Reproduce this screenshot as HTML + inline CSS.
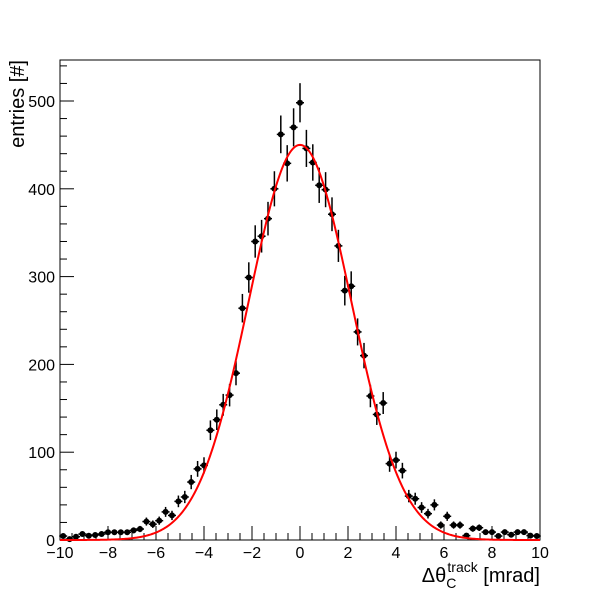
<!DOCTYPE html>
<html><head><meta charset="utf-8"><style>
body{margin:0;background:#fff}
svg{display:block;font-family:"Liberation Sans",sans-serif}
</style></head><body>
<svg id="c" width="600" height="600" viewBox="0 0 600 600">
<rect x="0" y="0" width="600" height="600" fill="#fff"/>
<rect x="60" y="60" width="480" height="480" fill="none" stroke="#000" stroke-width="1"/>
<g id="axes"></g>
<g id="marks"></g>
<text x="24" y="60" transform="rotate(-90 24 60)" text-anchor="end" font-size="20">entries [#]</text>
<text x="540" y="582" text-anchor="end" font-size="20">Δθ<tspan font-size="14" dy="6">C</tspan><tspan font-size="14" dx="-9" dy="-16">track</tspan><tspan font-size="20" dy="10"> [mrad]</tspan></text>
</svg>
<script>
const binLow = -10, binHigh = 10;
const counts = [4.5,1,3.7,6.8,4.9,5.7,6.8,8.8,8.8,8.8,8.8,11,12.5,21,18,22,32,28,44,49,66,81,85,125,137,154,
165,190,264,299,340,346,366,400,462,429,470,498,446,430,404,399,371,335,284,289,237,210,164,
143,156,87,91,79,50,47,37,30,40,17,27,17,17,5,13,14,9,9,4.5,9,6,9,9,5,4.5];
const fitParams = [450, 0, 2.13]; // amplitude, mean, sigma
const xTicks = [-10,-8,-6,-4,-2,0,2,4,6,8,10];
const yTicks = [0,100,200,300,400,500];
const X0=60,X1=540,Y0=540,Y1=60,YMAX=546.7;
const sx=v=>X0+(v-binLow)/(binHigh-binLow)*(X1-X0);
const sy=v=>Y0-v/YMAX*(Y0-Y1);
const NS="http://www.w3.org/2000/svg";
function mk(t,a,p){const e=document.createElementNS(NS,t);for(const k in a)e.setAttribute(k,a[k]);p.appendChild(e);return e;}
const ax=document.getElementById('axes'), mg=document.getElementById('marks');
// x ticks
for(let v=binLow; v<=binHigh+1e-9; v+=0.5){
  const major=Math.abs(v/2-Math.round(v/2))<1e-9;
  const t=mk('line',{x1:sx(v),x2:sx(v),y1:Y0,y2:Y0-(major?14:7),stroke:'#000'},ax);
  
  
}
xTicks.forEach(v=>{
  const t=mk('text',{x:sx(v),y:558,'text-anchor':'middle','font-size':16},ax);
  t.textContent=String(v).replace('-','−');
  
  
});
for(let v=0; v<=YMAX; v+=20){
  const major=v%100===0;
  const t=mk('line',{x1:X0,x2:X0+(major?14:7),y1:sy(v),y2:sy(v),stroke:'#000'},ax);
  
  
}
yTicks.forEach(v=>{
  const t=mk('text',{x:55,y:sy(v)+6,'text-anchor':'end','font-size':16},ax);
  t.textContent=v;
  
  
});
// data points
const bw=(binHigh-binLow)/counts.length;
counts.forEach((c,i)=>{
  const xc=binLow+(i+0.5)*bw, px=sx(xc), py=sy(c), e=Math.sqrt(c);
  const g=mk('g',{},mg);
  
  
  mk('line',{x1:px,x2:px,y1:sy(c+e),y2:Math.min(sy(c-e),Y0),stroke:'#000','stroke-width':1.5},g);
  mk('line',{x1:px-4,x2:px+4,y1:py,y2:py,stroke:'#000','stroke-width':1.5},g);
  mk('circle',{cx:px,cy:py,r:3,fill:'#000'},g);
});
// fit curve
let pts=[];
for(let k=0;k<=400;k++){
  const x=binLow+k*(binHigh-binLow)/400;
  const v=fitParams[0]*Math.exp(-0.5*Math.pow((x-fitParams[1])/fitParams[2],2));
  pts.push(sx(x).toFixed(2)+','+sy(v).toFixed(2));
}
const fl=mk('polyline',{points:pts.join(' '),fill:'none',stroke:'#ff0000','stroke-width':2},mg);


</script>
</body></html>
